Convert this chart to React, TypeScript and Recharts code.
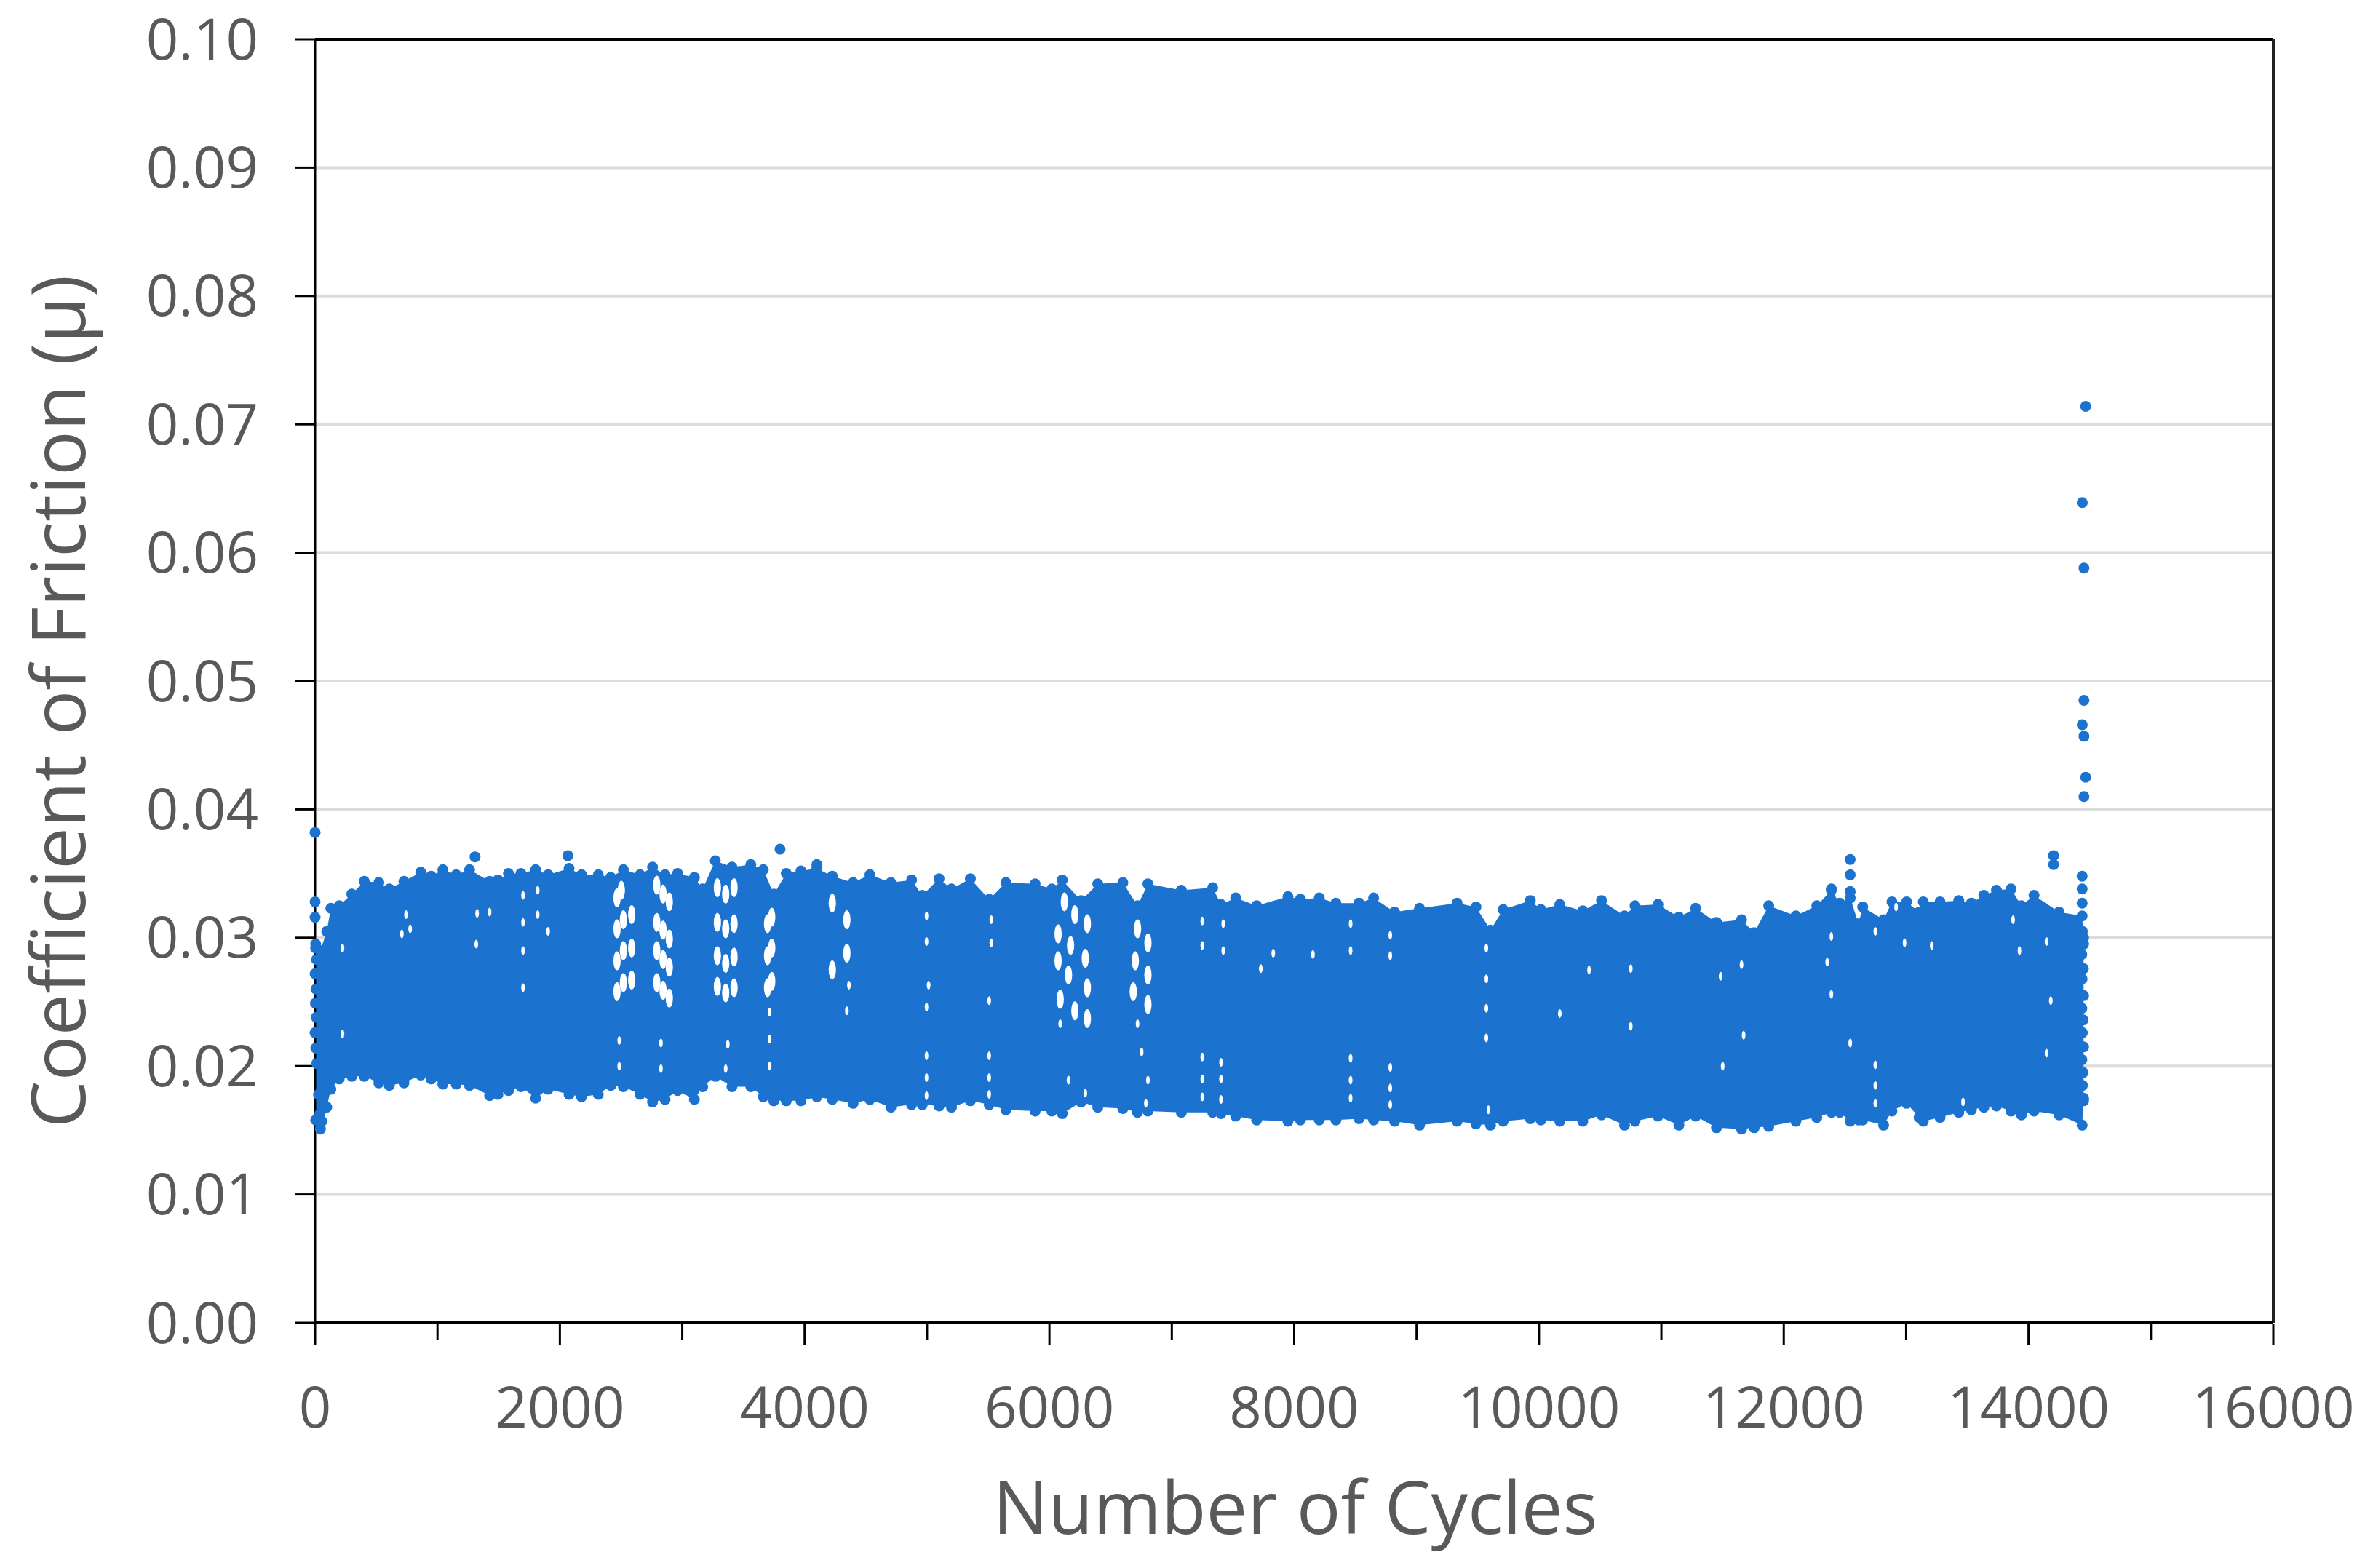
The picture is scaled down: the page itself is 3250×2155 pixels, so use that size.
import React from 'react';
import {
  ComposedChart,
  Area,
  Scatter,
  XAxis,
  YAxis,
  CartesianGrid,
  ReferenceLine
} from 'recharts';

const FONT = '"Open Sans", sans-serif';
const BLUE = '#1b73cf';
const GREY = '#595959';

const xTicks = [
  0, 1000, 2000, 3000, 4000, 5000, 6000, 7000, 8000, 9000, 10000, 11000, 12000, 13000, 14000,
  15000, 16000
];
const yTicks = [0, 0.01, 0.02, 0.03, 0.04, 0.05, 0.06, 0.07, 0.08, 0.09, 0.1];

// Outline of the dense cloud
const edgeCycles = [
  5, 43, 95, 129, 197, 300, 402, 521, 607, 726, 863, 948, 1044, 1153, 1262, 1426, 1494, 1580, 1682,
  1802, 1904, 2075, 2177, 2314, 2416, 2519, 2655, 2757, 2860, 2962, 3099, 3167, 3270, 3406, 3560,
  3662, 3748, 3850, 3970, 4100, 4226, 4396, 4533, 4704, 4874, 4961, 5098, 5200, 5354, 5508, 5644,
  5883, 6020, 6105, 6259, 6395, 6600, 6720, 6805, 7078, 7334, 7402, 7522, 7693, 7949, 8051, 8205,
  8341, 8529, 8649, 8820, 9024, 9331, 9485, 9604, 9707, 9929, 10016, 10170, 10358, 10511, 10699,
  10785, 10972, 11143, 11280, 11450, 11655, 11758, 11877, 12099, 12270, 12389, 12457, 12543, 12611,
  12645, 12816, 12884, 13004, 13106, 13140, 13277, 13430, 13533, 13635, 13738, 13857, 13942, 14045,
  14250, 14438, 14450
];
const edgeHigh = [
  0.0292, 0.029, 0.0305, 0.0323, 0.0325, 0.0334, 0.0344, 0.0343, 0.0338, 0.0344, 0.0351, 0.0348,
  0.0353, 0.0349, 0.0353, 0.0344, 0.0345, 0.035, 0.035, 0.0353, 0.0349, 0.0354, 0.0349, 0.0349,
  0.0347, 0.0353, 0.0349, 0.0355, 0.0349, 0.035, 0.0347, 0.0338, 0.036, 0.0355, 0.0357, 0.0353,
  0.0334, 0.035, 0.0352, 0.0354, 0.0348, 0.0343, 0.0349, 0.0343, 0.0345, 0.0333, 0.0346, 0.0338,
  0.0346, 0.033, 0.0343, 0.0342, 0.0338, 0.0345, 0.0329, 0.0342, 0.0343, 0.0325, 0.0342, 0.0337,
  0.0339, 0.0326, 0.0331, 0.0325, 0.0332, 0.033, 0.0331, 0.0327, 0.0327, 0.0331, 0.032, 0.0323,
  0.0327, 0.0324, 0.0306, 0.0322, 0.0329, 0.0322, 0.0326, 0.0321, 0.0329, 0.0317, 0.0325, 0.0326,
  0.0316, 0.0323, 0.0312, 0.0314, 0.0304, 0.0325, 0.0317, 0.0325, 0.0337, 0.0327, 0.0331, 0.0311,
  0.0324, 0.0314, 0.0328, 0.0328, 0.032, 0.0328, 0.0328, 0.0329, 0.0327, 0.0333, 0.0337, 0.0338,
  0.0325, 0.0333, 0.032, 0.0317, 0.03
];
const edgeLow = [
  0.0158, 0.0151, 0.0168, 0.0182, 0.019, 0.0192, 0.0192, 0.0187, 0.0185, 0.0187, 0.0193, 0.019,
  0.0186, 0.0186, 0.0185, 0.0177, 0.0178, 0.0181, 0.0184, 0.0175, 0.0182, 0.0178, 0.0176, 0.0178,
  0.0185, 0.0184, 0.0178, 0.0172, 0.0174, 0.0181, 0.0174, 0.0184, 0.0192, 0.0184, 0.0184, 0.0176,
  0.0173, 0.0173, 0.0173, 0.0176, 0.0174, 0.0171, 0.0174, 0.0168, 0.017, 0.017, 0.0169, 0.0168,
  0.0173, 0.017, 0.0166, 0.0165, 0.0165, 0.0163, 0.0172, 0.0168, 0.0167, 0.0164, 0.0165, 0.0164,
  0.0164, 0.0163, 0.0161, 0.0158, 0.0157, 0.0158, 0.0158, 0.0158, 0.0159, 0.0158, 0.0157, 0.0154,
  0.0157, 0.0155, 0.0154, 0.0157, 0.0159, 0.0158, 0.0157, 0.0157, 0.0162, 0.0154, 0.0157, 0.0161,
  0.0154, 0.0161, 0.0152, 0.0151, 0.0152, 0.0153, 0.0157, 0.016, 0.0164, 0.0164, 0.0157, 0.0158,
  0.0158, 0.0154, 0.0165, 0.0171, 0.016, 0.0157, 0.016, 0.0164, 0.0166, 0.0168, 0.0169, 0.0165,
  0.0162, 0.0165, 0.0162, 0.0154, 0.0173
];

// Isolated dots that stand clear of the cloud, and the dots along its two short ends
const strayCycles = [
  0, 0, 0, 1307, 2065, 3799, 4100, 12389, 12543, 12543, 12543, 14205, 14205, 14438, 14438, 14438,
  14467, 14439, 14453, 14453, 14439, 14453, 14467, 14453, 14440, 14450, 14435, 14448, 14438, 14450,
  14436, 14446, 14440, 14450, 14436, 14446, 14440, 14450, 5, 12, 0, 8, 3, 10, 0, 6, 14, 28, 40, 55
];
const strayValues = [
  0.0382, 0.0328, 0.0316, 0.0363, 0.0364, 0.0369, 0.0357, 0.0338, 0.0361, 0.0349, 0.0336, 0.0364,
  0.0357, 0.0348, 0.0338, 0.0327, 0.0714, 0.0639, 0.0588, 0.0485, 0.0466, 0.0457, 0.0425, 0.041,
  0.0305, 0.0295, 0.0287, 0.0276, 0.0268, 0.0255, 0.0245, 0.0236, 0.0226, 0.0215, 0.0205, 0.0195,
  0.0185, 0.0175, 0.0295, 0.0283, 0.0272, 0.026, 0.0249, 0.0238, 0.0226, 0.0214, 0.0202, 0.0178,
  0.0163, 0.0157
];

// Wider white openings between the oscillation traces
const wideGapCycles = [
  2467, 2502, 2467, 2519, 2467, 2519, 2467, 2519, 2587, 2587, 2587, 2792, 2843, 2894, 2792, 2843,
  2894, 2792, 2843, 2894, 2792, 2843, 2894, 3287, 3355, 3423, 3287, 3355, 3423, 3287, 3355, 3423,
  3287, 3355, 3423, 3697, 3731, 3697, 3731, 3697, 3731, 4226, 4226, 4345, 4345, 6122, 6208, 6310,
  6071, 6173, 6293, 6071, 6156, 6310, 6088, 6208, 6310, 6720, 6805, 6702, 6805, 6685, 6805
];
const wideGapValues = [
  0.0331, 0.0337, 0.0307, 0.0314, 0.0282, 0.029, 0.0258, 0.0265, 0.0318, 0.0292, 0.0267, 0.0341,
  0.0334, 0.0328, 0.0312, 0.0306, 0.0299, 0.029, 0.0283, 0.0277, 0.0265, 0.0259, 0.0253, 0.0339,
  0.0334, 0.0339, 0.0312, 0.0307, 0.0311, 0.0286, 0.028, 0.0285, 0.0262, 0.0257, 0.0261, 0.0311,
  0.0316, 0.0286, 0.0292, 0.0261, 0.0266, 0.0327, 0.0275, 0.0314, 0.0288, 0.0328, 0.0318, 0.0311,
  0.0303, 0.0294, 0.0284, 0.0282, 0.0271, 0.0261, 0.0252, 0.0243, 0.0237, 0.0307, 0.0296, 0.0282,
  0.0271, 0.0258, 0.0248
];

// Small white flecks
const smallGapCycles = [
  4362, 4345, 3714, 2485, 2485, 2826, 2826, 3714, 3714, 3372, 3355, 1699, 1699, 1699, 1699, 1819,
  1819, 1324, 1426, 1317, 709, 777, 743, 224, 224, 1904, 4996, 4996, 5013, 4996, 5525, 5525, 4996,
  4996, 4996, 5508, 5508, 5508, 7249, 7249, 7420, 7420, 7249, 7249, 7249, 7402, 7402, 7402, 8461,
  8461, 8461, 8461, 8461, 8785, 8785, 8785, 8785, 8785, 9570, 9570, 9570, 9570, 9587, 7829, 8153,
  7727, 6156, 6754, 6805, 6788, 6293, 5508, 6088, 6720, 10409, 10750, 10170, 10750, 11484, 11655,
  11501, 12389, 12748, 12987, 13209, 12355, 12389, 12543, 12748, 12748, 12748, 13874, 13926, 14147,
  14147, 14182, 13465, 11672, 12918
];
const smallGapValues = [
  0.0263, 0.0243, 0.0242, 0.022, 0.02, 0.0218, 0.0198, 0.0221, 0.02, 0.0217, 0.0198, 0.0333, 0.0312,
  0.029, 0.0261, 0.0337, 0.0318, 0.0319, 0.032, 0.0295, 0.0303, 0.0307, 0.0318, 0.0292, 0.0225,
  0.0305, 0.0317, 0.0297, 0.0263, 0.0246, 0.0314, 0.0296, 0.0208, 0.0191, 0.0177, 0.0208, 0.0191,
  0.0178, 0.0313, 0.0294, 0.0311, 0.029, 0.0207, 0.019, 0.0176, 0.0203, 0.019, 0.0174, 0.0311,
  0.029, 0.0206, 0.0189, 0.0175, 0.0286, 0.0302, 0.0199, 0.0183, 0.017, 0.0292, 0.0268, 0.0245,
  0.0222, 0.0166, 0.0288, 0.0287, 0.0276, 0.0189, 0.0211, 0.0189, 0.0171, 0.0179, 0.0251, 0.0233,
  0.0233, 0.0275, 0.0276, 0.0241, 0.0231, 0.027, 0.0279, 0.02, 0.0301, 0.0305, 0.0296, 0.0294,
  0.0281, 0.0256, 0.0218, 0.0185, 0.0171, 0.0201, 0.0314, 0.029, 0.0297, 0.021, 0.0251, 0.0172,
  0.0224, 0.0324
];

const edgeRows = edgeCycles.map((cycle, i) => ({
  cycle,
  range: [edgeLow[i], edgeHigh[i]],
  high: edgeHigh[i],
  low: edgeLow[i]
}));
const strayRows = strayCycles.map((cycle, i) => ({ cycle, value: strayValues[i] }));
const wideGapRows = wideGapCycles.map((cycle, i) => ({ cycle, value: wideGapValues[i] }));
const smallGapRows = smallGapCycles.map((cycle, i) => ({ cycle, value: smallGapValues[i] }));

const XTick = ({ x, y, payload }: any) => {
  const major = payload.value % 2000 === 0;
  return (
    <g>
      <line x1={x} x2={x} y1={y} y2={y + (major ? 28 : 22)} stroke="#000" strokeWidth={3} />
      {major && (
        <text x={x} y={y + 142} textAnchor="middle" fontFamily={FONT} fontSize={78} fill={GREY}>
          {payload.value}
        </text>
      )}
    </g>
  );
};

const Dot = (props: any) => <circle cx={props.cx} cy={props.cy} r={7.5} fill={BLUE} />;
// The openings are narrow slashes rather than round holes
const WideGap = (props: any) => (
  <ellipse cx={props.cx} cy={props.cy} rx={5} ry={13} fill="#fff" />
);
const SmallGap = (props: any) => (
  <ellipse cx={props.cx} cy={props.cy} rx={2.5} ry={6} fill="#fff" />
);

const App = () => {
  return (
    <div style={{ position: 'absolute', left: 0, top: 0, width: 3250, height: 2155, background: '#fff' }}>
      <ComposedChart
        width={3250}
        height={2155}
        data={edgeRows}
        margin={{ top: 54, right: 126, bottom: 0, left: 0 }}
      >
        <CartesianGrid horizontal vertical={false} stroke="#dcdcdc" strokeWidth={4} />
        <XAxis
          dataKey="cycle"
          type="number"
          domain={[0, 16000]}
          ticks={xTicks}
          interval={0}
          height={337}
          tickLine={false}
          tickSize={0}
          tick={<XTick />}
          axisLine={{ stroke: '#000', strokeWidth: 4 }}
          label={() => (
            <text x={1780} y={2108} textAnchor="middle" fontFamily={FONT} fontSize={101} fill={GREY}>
              Number of Cycles
            </text>
          )}
        />
        <YAxis
          type="number"
          domain={[0, 0.1]}
          ticks={yTicks}
          interval={0}
          width={433}
          tickSize={28}
          tickMargin={50}
          tickFormatter={(v: number) => v.toFixed(2)}
          tick={{ fontFamily: FONT, fontSize: 78, fill: GREY }}
          tickLine={{ stroke: '#000', strokeWidth: 3 }}
          axisLine={{ stroke: '#000', strokeWidth: 3 }}
          label={() => (
            <text
              transform="translate(117 964) rotate(-90)"
              textAnchor="middle"
              fontFamily={FONT}
              fontSize={103}
              fill={GREY}
            >
              Coefficient of Friction (µ)
            </text>
          )}
        />
        <ReferenceLine y={0.1} stroke="#000" strokeWidth={4} />
        <ReferenceLine x={16000} stroke="#222" strokeWidth={4} />
        <Area
          dataKey="range"
          type="linear"
          fill={BLUE}
          fillOpacity={1}
          stroke="none"
          dot={false}
          activeDot={false}
          isAnimationActive={false}
        />
        <Scatter data={edgeRows} dataKey="high" shape={<Dot />} isAnimationActive={false} />
        <Scatter data={edgeRows} dataKey="low" shape={<Dot />} isAnimationActive={false} />
        <Scatter data={strayRows} dataKey="value" shape={<Dot />} isAnimationActive={false} />
        <Scatter data={wideGapRows} dataKey="value" shape={<WideGap />} isAnimationActive={false} />
        <Scatter data={smallGapRows} dataKey="value" shape={<SmallGap />} isAnimationActive={false} />
      </ComposedChart>
    </div>
  );
};

export default App;
